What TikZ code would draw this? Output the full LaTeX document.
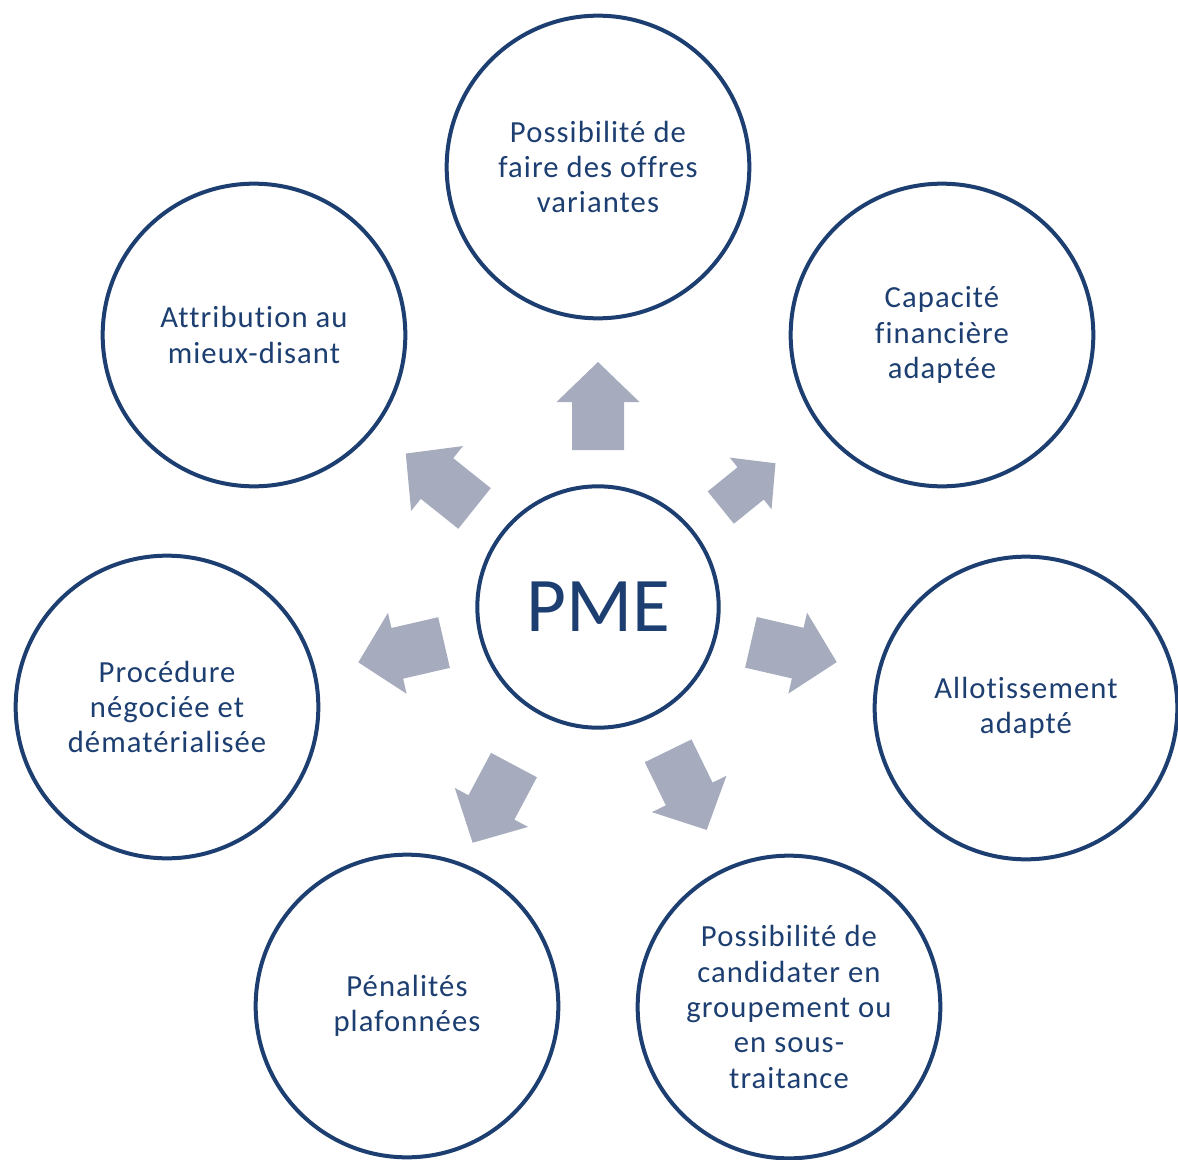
\documentclass[tikz,border=0pt]{standalone}
\usepackage{fontspec}
\setmainfont{Carlito}
\newfontfamily\ideafont{Carlito}[LetterSpace=3.5, Ligatures=NoCommon]
\definecolor{pmeblue}{RGB}{28,62,112}
\definecolor{arrowgrey}{RGB}{166,172,190}
\tikzset{
	idea/.style={circle, draw=pmeblue, line width=3pt, minimum size=227pt, inner sep=0pt, align=center, text=pmeblue, font=\ideafont\fontsize{23}{26.5}\selectfont},
	hub/.style={circle, draw=pmeblue, line width=3pt, minimum size=181pt, inner sep=0pt, text=pmeblue, font=\fontsize{58}{60}\selectfont},
	blockarrow/.style={fill=arrowgrey}
}
\begin{document}
\begin{tikzpicture}[x=0.75pt,y=0.75pt,yscale=-1,xscale=1]
	\useasboundingbox (0,0) rectangle (1178,1160);
	\node[hub] (pme) at (598,607) {PME};
	% block arrows round the hub: angle / start / scale
	\foreach \a/\s/\k in {-90/157/1, -39/158/0.8, 13/157/1, 64/160/1, 118/179/1, 167/158/1, 218.6/158/1}
		\fill[blockarrow, shift={(598,607)}, rotate=\a, shift={(\s,0)}, scale=\k] (0,-26) -- (48,-26) -- (48,-41.5) -- (88,0) -- (48,41.5) -- (48,26) -- (0,26) -- cycle ;

	\node[idea] (variantes) at (598,167) {Possibilité de\\faire des offres\\variantes};
	\node[idea] (capacite) at (942,335) {Capacité\\financière\\adaptée};
	\node[idea] (allotissement) at (1026,708) {Allotissement\\adapté};
	\node[idea] (groupement) at (789,1007) {Possibilité de\\candidater en\\groupement ou\\en sous-\\traitance};
	\node[idea] (penalites) at (407,1006) {Pénalités\\plafonnées};
	\node[idea] (procedure) at (167,707) {Procédure\\négociée et\\dématérialisée};
	\node[idea] (attribution) at (254,335) {Attribution au\\mieux-disant};
\end{tikzpicture}
\end{document}
